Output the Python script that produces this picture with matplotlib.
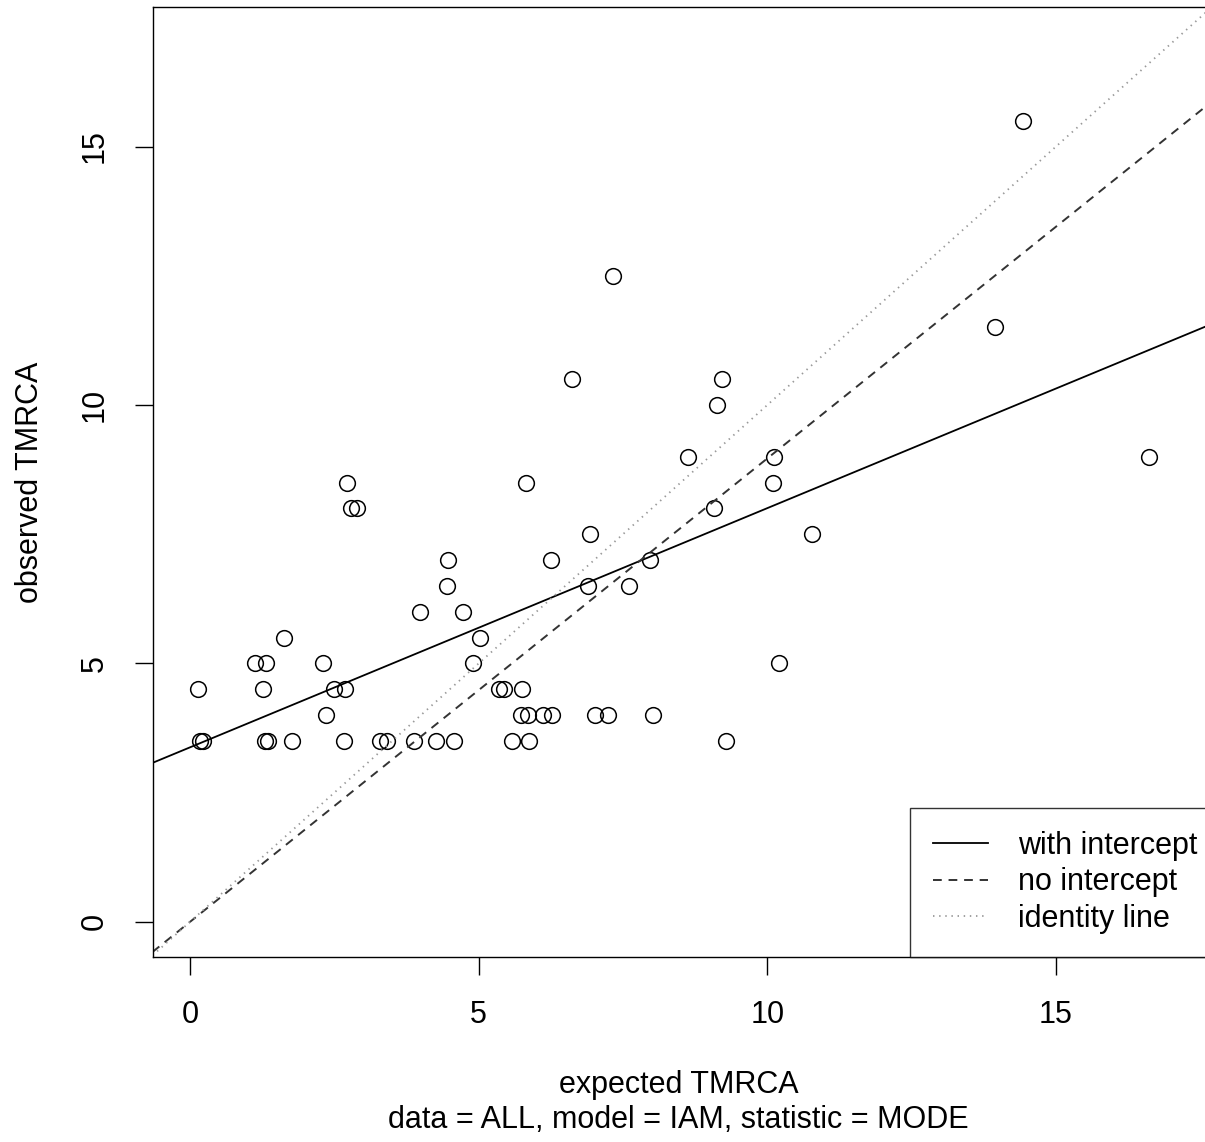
import numpy as np
import matplotlib
matplotlib.use("Agg")
import matplotlib.pyplot as plt

# expected TMRCA (x) and observed TMRCA (y)
expected = [0.17, 0.23, 1.30, 1.35, 1.77, 2.67, 3.29, 3.41, 3.88, 4.26, 4.57, 5.58, 5.87, 9.28,
            2.36, 5.73, 5.85, 6.11, 6.27, 7.02, 7.24, 8.02,
            0.14, 1.26, 2.49, 2.68, 5.35, 5.44, 5.75,
            1.13, 1.32, 2.30, 4.90, 10.20,
            1.63, 5.02,
            3.98, 4.73,
            4.45, 6.89, 7.60,
            4.47, 6.25, 7.97,
            6.93, 10.77,
            2.79, 2.89, 9.08,
            2.72, 5.82, 10.10,
            8.63, 10.12, 16.61,
            9.13,
            6.62, 9.22,
            13.94,
            7.33,
            14.43]
observed = [3.5] * 14 + [4.0] * 8 + [4.5] * 7 + [5.0] * 5 + [5.5] * 2 + [6.0] * 2 + \
           [6.5] * 3 + [7.0] * 3 + [7.5] * 2 + [8.0] * 3 + [8.5] * 3 + [9.0] * 3 + \
           [10.0] + [10.5] * 2 + [11.5] + [12.5] + [15.5]

x_ticks = [0, 5, 10, 15]
y_ticks = [0, 5, 10, 15]
legend_labels = ["with intercept", "no intercept", "identity line"]
x_label = "expected TMRCA"
subtitle = "data = ALL, model = IAM, statistic = MODE"
y_label = "observed TMRCA"

x = np.array(expected)
y = np.array(observed)
slope1, icpt1 = np.polyfit(x, y, 1)
slope0 = np.sum(x * y) / np.sum(x * x)

plt.rcParams['font.family'] = ['Liberation Sans', 'DejaVu Sans']
FS = 22

W, H = 1205, 1142
fig = plt.figure(figsize=(W / 100, H / 100), dpi=100)
left_px, right_px, top_px, bot_px = 152.5, 1210.7, 7, 957
ax = fig.add_axes([left_px / W, 1 - bot_px / H, (right_px - left_px) / W, (bot_px - top_px) / H])
xlim = (-0.65, 17.68)
ylim = (-0.68, 17.70)
ax.set_xlim(*xlim)
ax.set_ylim(*ylim)

ax.plot(x, y, linestyle='none', marker='o', ms=11.3, mfc='none', mec='black', mew=1.1)

xs = np.array(xlim)
ax.plot(xs, icpt1 + slope1 * xs, color='black', lw=1.3, label=legend_labels[0])
ax.plot(xs, slope0 * xs, color='#333333', lw=1.4, dashes=(4.5, 3.5), label=legend_labels[1])
ax.plot(xs, xs, color='#999999', lw=1.3, dashes=(0.8, 2.6), label=legend_labels[2])

ax.set_xticks(x_ticks)
ax.set_yticks(y_ticks)
ax.tick_params(axis='both', length=13, width=1.0, labelsize=FS, pad=18, direction='out')
for lbl in ax.get_yticklabels():
    lbl.set_rotation(90)
    lbl.set_va('center')
for s in ax.spines.values():
    s.set_linewidth(1.0)

leg = ax.legend(loc='lower right', bbox_to_anchor=(1.0095, 0.0), borderaxespad=0,
                fontsize=FS, frameon=True, fancybox=False, edgecolor='black',
                handlelength=1.8, handletextpad=1.0, borderpad=0.75, labelspacing=0.22)
leg.get_frame().set_linewidth(1.0)

fig.text(0.5 * (left_px + 1205) / W, 1 - 1085 / H, x_label, ha='center', va='center', fontsize=FS)
fig.text(0.5 * (left_px + 1205) / W, 1 - 1120 / H, subtitle, ha='center', va='center', fontsize=FS)
fig.text(30 / W, 1 - 482 / H, y_label, ha='center', va='center', rotation=90, fontsize=FS)

fig.savefig("out.png", dpi=100)
